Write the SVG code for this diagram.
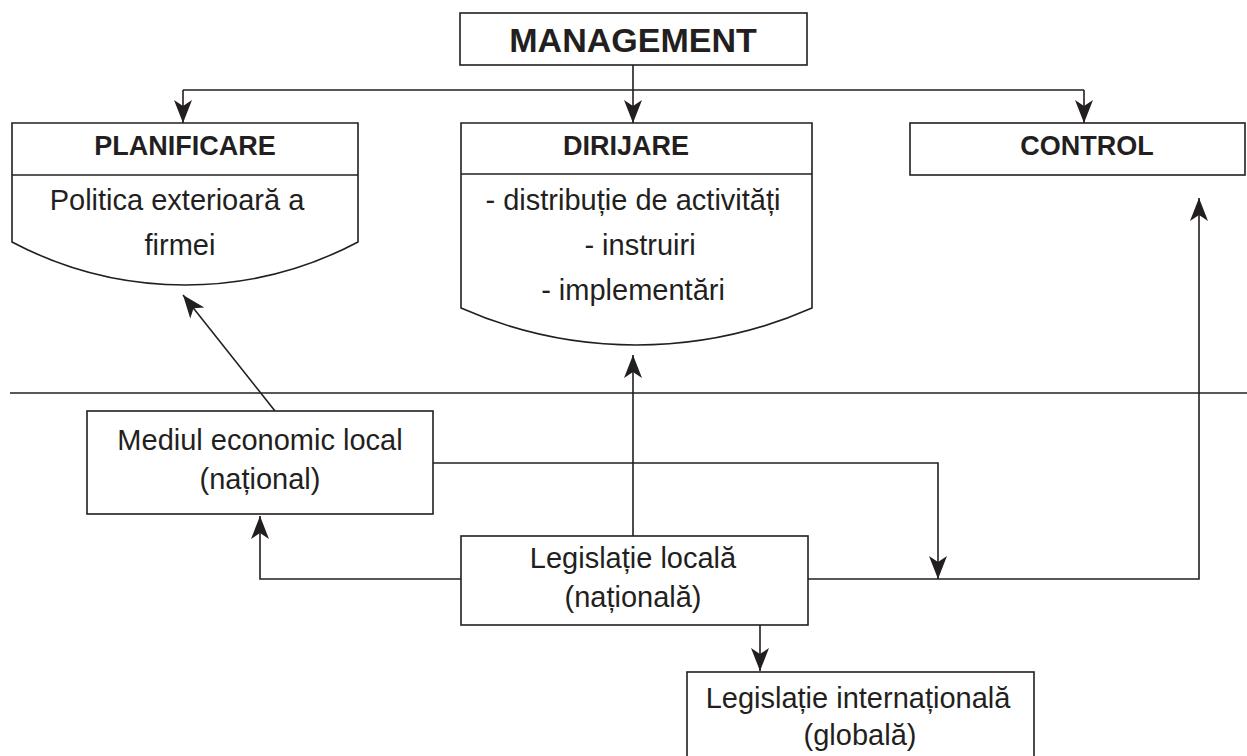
<svg xmlns="http://www.w3.org/2000/svg" width="1247" height="756" viewBox="0 0 1247 756">
  <style>
    .box { fill: #ffffff; stroke: #231f20; stroke-width: 1.6; }
    .line { fill: none; stroke: #231f20; stroke-width: 1.6; }
    .head { font-family: "Liberation Sans", Arial, sans-serif; font-weight: bold; font-size: 27px; fill: #231f20; text-anchor: middle; }
    .title { font-size: 34px; }
    .body { font-family: "Liberation Sans", Arial, sans-serif; font-size: 29px; fill: #231f20; text-anchor: middle; }
    .conn { fill: none; stroke: #231f20; stroke-width: 1.6; marker-end: url(#arrow); }
  </style>
  <defs>
    <marker id="arrow" markerUnits="userSpaceOnUse" markerWidth="26" markerHeight="22" viewBox="-24 -11 26 22" refX="0" refY="0" orient="auto">
      <path d="M0,0 L-23,-9 L-17,0 L-23,9 Z" fill="#231f20"/>
    </marker>
  </defs>
  <rect width="1247" height="756" fill="#ffffff"/>

  <!-- separator between management level and environment -->
  <path class="line" d="M10,393 H1247"/>

  <g id="connectors">
    <path class="line" d="M633,65 V90 M183,90 H1084"/>
    <path class="conn" d="M183,90 V123"/>
    <path class="conn" d="M633,90 V123"/>
    <path class="conn" d="M1084,90 V123"/>
    <path class="conn" d="M275,411 L183,295"/>
    <path class="conn" d="M633,536 V355"/>
    <path class="conn" d="M461,579 H260 V516"/>
    <path class="conn" d="M433,463 H938 V579"/>
    <path class="conn" d="M808,579 H1199 V198"/>
    <path class="conn" d="M760,625 V671"/>
  </g>

  <g id="management">
    <rect class="box" x="460" y="13" width="347" height="52"/>
    <text class="head title" x="633" y="52">MANAGEMENT</text>
  </g>

  <g id="planificare">
    <path class="box" d="M12,123 H358 V242 A370,370 0 0 1 12,242 Z"/>
    <path class="line" d="M12,175 H358"/>
    <text class="head" x="185" y="155">PLANIFICARE</text>
    <text class="body" x="177" y="210">Politica exterioară a</text>
    <text class="body" x="180" y="255">firmei</text>
  </g>

  <g id="dirijare">
    <path class="box" d="M461,123 H812 V308 A435,435 0 0 1 461,308 Z"/>
    <path class="line" d="M461,174 H812"/>
    <text class="head" x="626" y="155">DIRIJARE</text>
    <text class="body" x="633" y="210">- distribuție de activități</text>
    <text class="body" x="640" y="255">- instruiri</text>
    <text class="body" x="633" y="300">- implementări</text>
  </g>

  <g id="control">
    <rect class="box" x="910" y="123" width="335" height="52"/>
    <text class="head" x="1087" y="155">CONTROL</text>
  </g>

  <g id="mediul">
    <rect class="box" x="87" y="411" width="346" height="103"/>
    <text class="body" x="260" y="450">Mediul economic local</text>
    <text class="body" x="260" y="489">(național)</text>
  </g>

  <g id="legislatie-locala">
    <rect class="box" x="461" y="536" width="347" height="89"/>
    <text class="body" x="633" y="568">Legislație locală</text>
    <text class="body" x="633" y="607">(națională)</text>
  </g>

  <g id="legislatie-internationala">
    <rect class="box" x="687" y="672" width="347" height="100"/>
    <text class="body" x="858" y="708">Legislație internațională</text>
    <text class="body" x="860" y="745">(globală)</text>
  </g>
</svg>
